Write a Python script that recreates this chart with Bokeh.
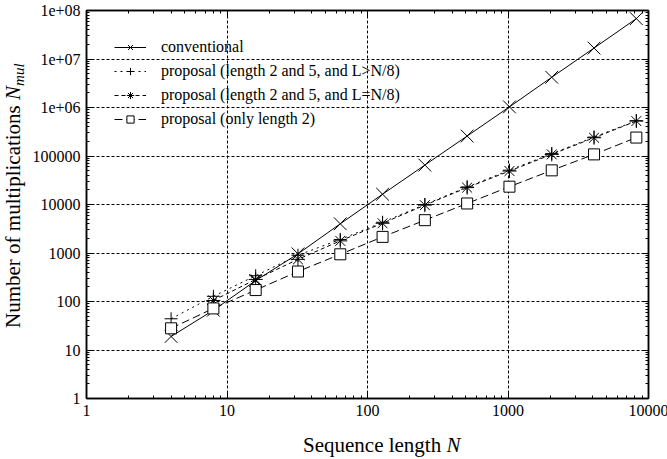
from bokeh.plotting import figure
from bokeh.models import (LogAxis, FixedTicker, Legend, LegendItem, Range1d,
                          CustomJSTickFormatter, Div)
from bokeh.layouts import row, column
from bokeh.embed import file_html
from bokeh.resources import INLINE

# ---- data ----
n_len = [4, 8, 16, 32, 64, 128, 256, 512, 1024, 2048, 4096, 8192]
conventional = [19, 66, 270, 960, 4000, 16300, 65000, 258000, 1030000, 4200000, 16800000, 68000000]
n_len_gt = [4, 8, 16, 32, 64, 128, 256, 512, 1024, 2048, 4096, 8192]
prop_25_gt = [44, 128, 340, 900, 1900, 4300, 10000, 23000, 51000, 112000, 245000, 535000]
n_len_eq = [8, 16, 32, 64, 128, 256, 512, 1024, 2048, 4096, 8192]
prop_25_eq = [105, 285, 740, 1780, 4100, 9700, 22300, 49000, 108000, 238000, 525000]
prop_2 = [28, 72, 172, 415, 940, 2150, 4750, 10500, 23300, 50600, 108000, 240000]

x_ticks = [1, 10, 100, 1000, 10000]
x_tick_labels = ["1", "10", "100", "1000", "10000"]
y_ticks = [1, 10, 100, 1000, 10000, 100000, 1000000, 10000000, 100000000]
y_tick_labels = ["1", "10", "100", "1000", "10000", "100000", "1e+06", "1e+07", "1e+08"]

series_labels = ["conventional",
                 "proposal (length 2 and 5, and L>N/8)",
                 "proposal (length 2 and 5, and L=N/8)",
                 "proposal (only length 2)"]

FONT = "Liberation Serif"
YDIV_W = 29
PLOT_W, PLOT_H = 638, 420
XDIV_H = 39

x_minor = [m * 10 ** k for k in range(0, 4) for m in range(2, 10)]
y_minor = [m * 10 ** k for k in range(0, 8) for m in range(2, 10)]

p = figure(x_axis_type="log", y_axis_type="log",
           x_range=Range1d(1, 10000), y_range=Range1d(1, 1e8),
           frame_width=562, frame_height=388,
           min_border_left=56, min_border_right=20, min_border_top=10, min_border_bottom=22,
           output_backend="svg", toolbar_location=None,
           background_fill_color="white", border_fill_color="white")
p.outline_line_color = "black"
p.outline_line_width = 1.5

LABEL_JS = """
for (let i = 0; i < tvals.length; i++) {
  if (Math.abs(Math.log10(tick) - Math.log10(tvals[i])) < 1e-6) { return tlabels[i]; }
}
return "";
"""


def style_axis(ax, ticks, minor, labels):
    ax.ticker = FixedTicker(ticks=ticks, minor_ticks=minor)
    ax.major_tick_in = 6
    ax.major_tick_out = 0
    ax.minor_tick_in = 3
    ax.minor_tick_out = 0
    ax.axis_line_color = "black"
    ax.axis_line_width = 1.5
    ax.major_tick_line_color = "black"
    ax.minor_tick_line_color = "black"
    ax.major_tick_line_width = 1
    ax.minor_tick_line_width = 1
    if labels is not None:
        ax.formatter = CustomJSTickFormatter(args=dict(tvals=ticks, tlabels=labels), code=LABEL_JS)
        ax.major_label_text_font = FONT
        ax.major_label_text_font_size = "16px"
        ax.major_label_text_color = "black"
        ax.major_label_standoff = 6
    else:
        ax.formatter = CustomJSTickFormatter(code="return ' ';")
        ax.major_label_text_font_size = "1px"
        ax.major_label_text_color = None
        ax.major_label_standoff = 0


style_axis(p.xaxis[0], x_ticks, x_minor, x_tick_labels)
style_axis(p.yaxis[0], y_ticks, y_minor, y_tick_labels)
top_ax = LogAxis()
right_ax = LogAxis()
style_axis(top_ax, x_ticks, x_minor, None)
style_axis(right_ax, y_ticks, y_minor, None)
p.add_layout(top_ax, "above")
p.add_layout(right_ax, "right")

p.xgrid.ticker = FixedTicker(ticks=x_ticks[1:-1])
p.ygrid.ticker = FixedTicker(ticks=y_ticks[1:-1])
for g in (p.xgrid, p.ygrid):
    g.grid_line_color = "black"
    g.grid_line_dash = "3 2"
    g.grid_line_width = 1

# series
l1 = p.line(n_len, conventional, line_color="black", line_width=1)
s1 = p.scatter(n_len, conventional, marker="x", size=18, line_color="black", line_width=1)
l2 = p.line(n_len_gt, prop_25_gt, line_color="black", line_width=1, line_dash="2 4")
s2 = p.scatter(n_len_gt, prop_25_gt, marker="cross", size=13, line_color="black", line_width=1)
l3 = p.line(n_len_eq, prop_25_eq, line_color="black", line_width=1, line_dash="4 3")
s3 = p.scatter(n_len_eq, prop_25_eq, marker="asterisk", size=14, line_color="black", line_width=1)
l4 = p.line(n_len, prop_2, line_color="black", line_width=1, line_dash="8 4")
s4 = p.scatter(n_len, prop_2, marker="square", size=11, line_color="black",
               fill_color="white", line_width=1)

legend = Legend(items=[LegendItem(label=series_labels[0], renderers=[l1, s1]),
                       LegendItem(label=series_labels[1], renderers=[l2, s2]),
                       LegendItem(label=series_labels[2], renderers=[l3, s3]),
                       LegendItem(label=series_labels[3], renderers=[l4, s4])],
                location="top_left", margin=10, padding=18, spacing=6,
                glyph_width=32, glyph_height=18, label_height=18, label_standoff=15,
                label_text_font=FONT, label_text_font_size="16px", label_text_color="black",
                background_fill_alpha=0, border_line_alpha=0)
p.add_layout(legend)

# axis titles as HTML text (italic N, subscript "mul")
font_css = "font-family:'Liberation Serif','Times New Roman',serif;font-size:21px;line-height:21px;color:black;white-space:nowrap;"
x_title = Div(width=PLOT_W, height=XDIV_H, margin=0,
              text=f"<div style=\"{font_css}padding-left:{303 - YDIV_W}px;padding-top:15px;\">"
                   "Sequence length <i>N</i></div>")
y_title = Div(width=YDIV_W, height=PLOT_H + XDIV_H, margin=0,
              text=f"<div style=\"position:relative;width:{YDIV_W}px;height:{PLOT_H + XDIV_H}px;\">"
                   f"<div style=\"position:absolute;left:3px;top:328px;transform:rotate(-90deg);"
                   f"transform-origin:0 0;{font_css}\">Number of multiplications <i>N</i>"
                   "<i style=\"font-size:15px;vertical-align:-4px;\">mul</i></div></div>")

layout = row(y_title, column(p, x_title, spacing=0), spacing=0)

open("out.html", "w").write(file_html(layout, INLINE))
